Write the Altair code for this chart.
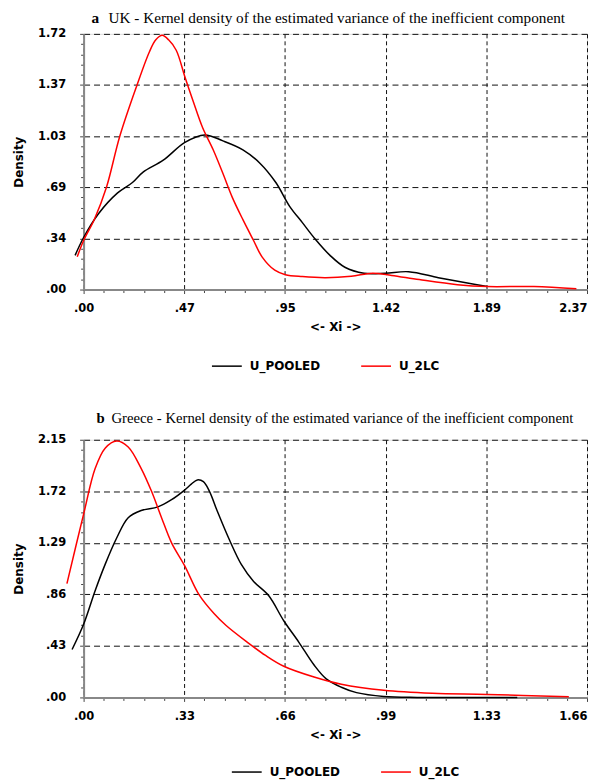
import altair as alt
import pandas as pd

# ---------- Panel a: UK ----------
UK_POOLED_X = [-0.04, 0.0, 0.07, 0.16, 0.23, 0.28, 0.375, 0.477, 0.57, 0.656, 0.75, 0.83, 0.905, 0.97, 1.03, 1.09, 1.16, 1.23, 1.32, 1.42, 1.53, 1.67, 1.80, 1.90]
UK_POOLED_Y = [0.23, 0.35, 0.51, 0.65, 0.72, 0.79, 0.87, 0.99, 1.04, 1.00, 0.94, 0.85, 0.72, 0.56, 0.45, 0.34, 0.23, 0.15, 0.11, 0.11, 0.12, 0.08, 0.045, 0.02]
UK_2LC_X = [-0.03, 0.0, 0.05, 0.108, 0.17, 0.25, 0.31, 0.34, 0.37, 0.40, 0.436, 0.477, 0.515, 0.56, 0.61, 0.656, 0.70, 0.75, 0.80, 0.84, 0.90, 0.95, 1.03, 1.14, 1.26, 1.36, 1.45, 1.58, 1.76, 1.90, 2.12, 2.32]
UK_2LC_Y = [0.22, 0.33, 0.47, 0.69, 1.03, 1.37, 1.60, 1.68, 1.71, 1.68, 1.61, 1.43, 1.27, 1.09, 0.94, 0.78, 0.62, 0.47, 0.33, 0.22, 0.13, 0.10, 0.087, 0.08, 0.09, 0.11, 0.095, 0.067, 0.033, 0.02, 0.02, 0.005]
UK_X_TICKS = [0.0, 0.474, 0.948, 1.422, 1.896, 2.37]
UK_X_LABELS = [".00", ".47", ".95", "1.42", "1.89", "2.37"]
UK_Y_TICKS = [0.0, 0.344, 0.688, 1.032, 1.376, 1.72]
UK_Y_LABELS = [".00", ".34", ".69", "1.03", "1.37", "1.72"]

# ---------- Panel b: Greece ----------
GR_POOLED_X = [-0.038, 0.0, 0.038, 0.071, 0.109, 0.147, 0.19, 0.245, 0.29, 0.333, 0.355, 0.375, 0.395, 0.415, 0.44, 0.48, 0.52, 0.56, 0.61, 0.66, 0.71, 0.76, 0.80, 0.85, 0.90, 0.99, 1.10, 1.25, 1.43]
GR_POOLED_Y = [0.40, 0.61, 0.89, 1.11, 1.33, 1.50, 1.56, 1.59, 1.65, 1.73, 1.78, 1.815, 1.80, 1.72, 1.56, 1.32, 1.11, 0.97, 0.85, 0.64, 0.46, 0.27, 0.155, 0.085, 0.04, 0.008, 0.0, 0.0, 0.0]
GR_2LC_X = [-0.055, 0.0, 0.038, 0.071, 0.109, 0.147, 0.19, 0.224, 0.257, 0.29, 0.333, 0.38, 0.43, 0.47, 0.54, 0.60, 0.66, 0.76, 0.85, 0.99, 1.15, 1.33, 1.60]
GR_2LC_Y = [0.95, 1.53, 1.91, 2.08, 2.14, 2.09, 1.91, 1.72, 1.50, 1.29, 1.10, 0.86, 0.70, 0.60, 0.46, 0.35, 0.26, 0.17, 0.11, 0.06, 0.035, 0.025, 0.005]
GR_X_TICKS = [0.0, 0.332, 0.664, 0.996, 1.328, 1.66]
GR_X_LABELS = [".00", ".33", ".66", ".99", "1.33", "1.66"]
GR_Y_TICKS = [0.0, 0.43, 0.86, 1.29, 1.72, 2.15]
GR_Y_LABELS = [".00", ".43", ".86", "1.29", "1.72", "2.15"]

SERIES = ["U_POOLED", "U_2LC"]
COLORS = ["#000000", "#ff0000"]

TITLE_A = ("a", "UK - Kernel density of the estimated variance of the inefficient component")
TITLE_B = ("b", "Greece - Kernel density of the estimated variance of the inefficient component")


def long_df(px, py, rx, ry):
    rows = [{"x": a, "d": b, "s": SERIES[0], "o": i} for i, (a, b) in enumerate(zip(px, py))]
    rows += [{"x": a, "d": b, "s": SERIES[1], "o": i} for i, (a, b) in enumerate(zip(rx, ry))]
    return pd.DataFrame(rows)


def axis_for(major, labels, sub, title, grid_dash, orient, lpad, tpad, flush_last):
    step = major[1] - major[0]
    n = (len(major) - 1) * sub
    allv = [round(i * step / sub, 6) for i in range(n + 1)]
    ints = ",".join(str(int(round(v * 1000))) for v in major)
    labs = ",".join("'" + l + "'" for l in labels)
    majtest = f"indexof([{ints}], round(datum.value*1000)) >= 0"
    kw = {}
    if flush_last:
        lasttest = f"round(datum.value*1000) >= {int(round(major[-1] * 1000))}"
        kw["labelAlign"] = {"condition": {"test": lasttest, "value": "right"}, "value": "center"}
    return alt.Axis(
        values=allv,
        labelExpr=f"[{labs}][indexof([{ints}], round(datum.value*1000))] || ''",
        labelOverlap=False,
        labelFlush=False,
        title=title,
        orient=orient,
        grid=True,
        gridColor="#111111",
        gridDash=grid_dash,
        gridWidth=1,
        gridOpacity={"condition": {"test": majtest, "value": 1}, "value": 0},
        tickSize={"condition": {"test": majtest, "value": 4}, "value": 3},
        tickColor="#444444",
        domainColor="#888888",
        domainWidth=2,
        labelFont="DejaVu Sans",
        labelFontWeight="bold",
        labelFontSize=11.5,
        labelColor="#000000",
        labelPadding=lpad,
        titleFont="DejaVu Sans",
        titleFontWeight="bold",
        titleFontSize=12,
        titleColor="#000000",
        titlePadding=tpad,
        **kw,
    )


def panel(df, xt, xl, yt, yl, w, h, title, tfs, tdx, ldx, tdy, legx, legy):
    xax = axis_for(xt, xl, 5, "<- Xi ->", [4, 3], "bottom", 9, 8, True)
    yax = axis_for(yt, yl, 5, "Density", [6, 4], "left", 14, 12, False)
    lines = alt.Chart(df).mark_line(strokeWidth=1.5, interpolate="catmull-rom").encode(
        x=alt.X("x:Q", scale=alt.Scale(domain=[xt[0], xt[-1]], nice=False, zero=False), axis=xax),
        y=alt.Y("d:Q", scale=alt.Scale(domain=[yt[0], yt[-1]], nice=False, zero=False), axis=yax),
        color=alt.Color(
            "s:N",
            scale=alt.Scale(domain=SERIES, range=COLORS),
            legend=alt.Legend(
                title=None,
                orient="none",
                legendX=legx,
                legendY=legy,
                direction="horizontal",
                symbolType="stroke",
                symbolSize=900,
                symbolStrokeWidth=1.5,
                labelFont="DejaVu Sans",
                labelFontWeight="bold",
                labelFontSize=12,
                labelColor="#000000",
                labelOffset=7,
                columnPadding=38,
            ),
        ),
        order="o:Q",
        detail="s:N",
    )
    tdf = pd.DataFrame({"l": [title[0]], "t": [title[1]]})
    letter = alt.Chart(tdf).mark_text(
        font="Liberation Serif", fontWeight="bold", fontSize=tfs, align="left", baseline="middle", color="#000000"
    ).encode(x=alt.value(ldx), y=alt.value(tdy), text="l:N")
    text = alt.Chart(tdf).mark_text(
        font="Liberation Serif", fontSize=tfs, align="left", baseline="middle", color="#000000"
    ).encode(x=alt.value(tdx), y=alt.value(tdy), text="t:N")
    return alt.layer(lines, letter, text).properties(width=w, height=h)


pa = panel(long_df(UK_POOLED_X, UK_POOLED_Y, UK_2LC_X, UK_2LC_Y), UK_X_TICKS, UK_X_LABELS, UK_Y_TICKS, UK_Y_LABELS,
           506, 257, TITLE_A, 15.3, 25, 8, -16, 128, 318)
pb = panel(long_df(GR_POOLED_X, GR_POOLED_Y, GR_2LC_X, GR_2LC_Y), GR_X_TICKS, GR_X_LABELS, GR_Y_TICKS, GR_Y_LABELS,
           506, 259, TITLE_B, 14.8, 28, 13, -21, 148, 318)

chart = alt.vconcat(pa, pb, spacing=37).resolve_scale(
    x="independent", y="independent", color="independent"
).resolve_legend(color="independent").configure_view(
    stroke="#222222", strokeWidth=1.5
).properties(
    padding={"left": 4, "top": 0, "right": 0, "bottom": 0}
).configure(background="white")

chart.save("out.html", embed_options={"renderer": "svg", "actions": False})
